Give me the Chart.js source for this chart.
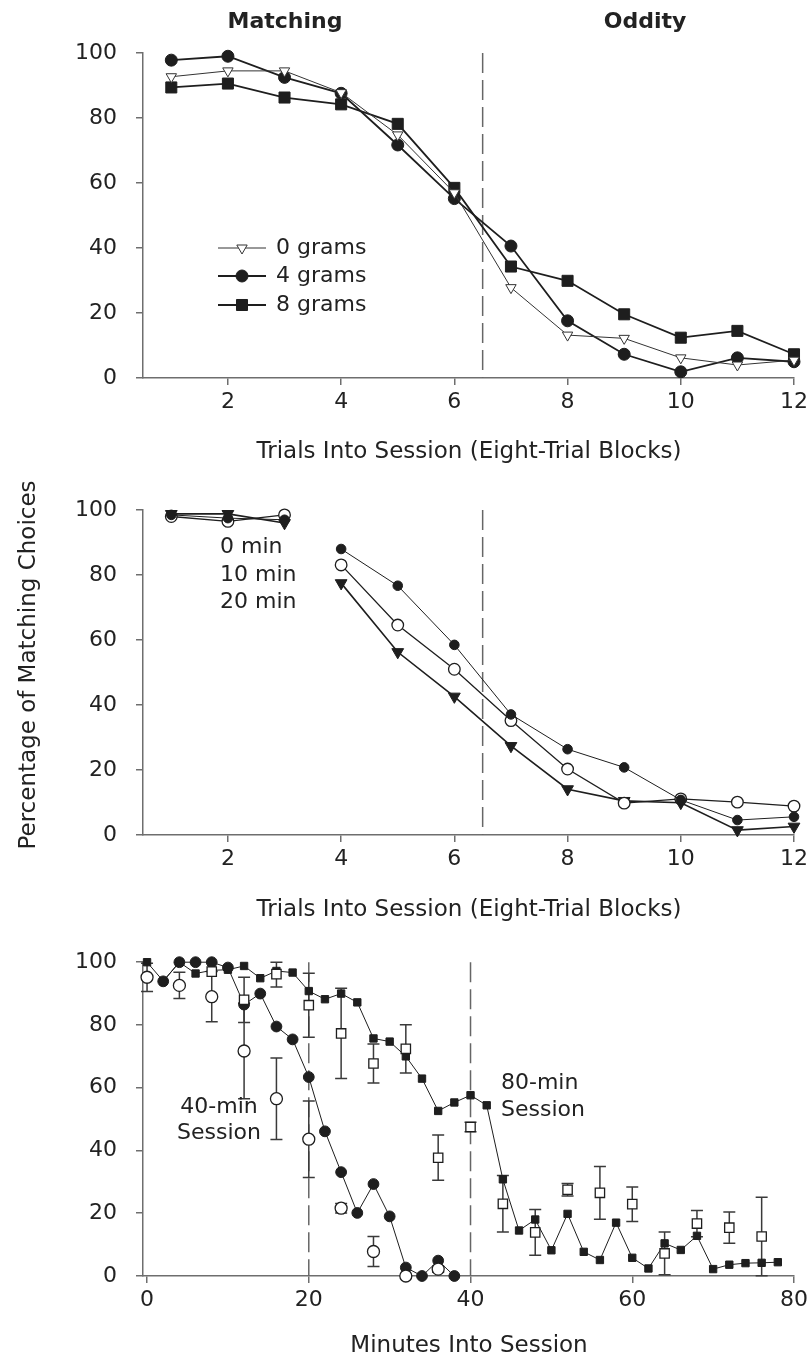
<!DOCTYPE html>
<html><head><meta charset="utf-8">
<script src="https://cdn.jsdelivr.net/npm/chart.js@4.4.1/dist/chart.umd.min.js"></script>
<style>
html,body{margin:0;padding:0;background:#fff;width:812px;height:1362px;overflow:hidden;}
canvas{position:absolute;left:0;}
</style></head><body>
<canvas id="c1" width="812" height="470" style="top:0px;width:812px;height:470px"></canvas>
<canvas id="c2" width="812" height="460" style="top:470px;width:812px;height:460px"></canvas>
<canvas id="c3" width="812" height="432" style="top:930px;width:812px;height:432px"></canvas>
<script>
// ---------- DATA ----------
const yTicks = [0, 20, 40, 60, 80, 100];
const blockTicks = [2, 4, 6, 8, 10, 12];
const minuteTicks = [0, 20, 40, 60, 80];

// Panel 1: weight conditions
const blocks = [1, 2, 3, 4, 5, 6, 7, 8, 9, 10, 11, 12];
const grams0 = [92.7, 94.5, 94.5, 87.8, 74.8, 57.0, 27.8, 13.2, 12.2, 6.2, 4.0, 5.5];
const grams4 = [97.8, 99.0, 92.5, 87.6, 71.7, 55.2, 40.6, 17.6, 7.3, 1.9, 6.2, 5.0];
const grams8 = [89.4, 90.6, 86.3, 84.2, 78.2, 58.5, 34.3, 29.9, 19.6, 12.4, 14.5, 7.3];
const weightLabels = ['0 grams', '4 grams', '8 grams'];
const phaseLabels = ['Matching', 'Oddity'];
const phaseBoundary = [6.5];

// Panel 2: delay conditions
const delay0 = [98.5, 97.5, 97.0, 88.0, 76.7, 58.5, 37.1, 26.4, 20.8, 10.8, 4.6, 5.6];
const delay10 = [98.0, 96.5, 98.5, 83.1, 64.6, 51.0, 35.2, 20.3, 9.8, 11.1, 10.1, 8.9];
const delay20 = [98.8, 98.8, 96.0, 77.5, 56.3, 42.6, 27.4, 14.1, 10.5, 9.9, 1.5, 2.6];
const delayLabels = ['0 min', '10 min', '20 min'];

// Panel 3: session length
const minutes40 = [0, 2, 4, 6, 8, 10, 12, 14, 16, 18, 20, 22, 24, 26, 28, 30, 32, 34, 36, 38];
const session40 = [null, 93.9, 100, 100, 100, 98.3, 86.5, 90.0, 79.5, 75.4, 63.4, 46.1, 33.1, 20.1, 29.3, 19.0, 2.7, 0, 4.9, 0];
const minutes80 = [0, 2, 4, 6, 8, 10, 12, 14, 16, 18, 20, 22, 24, 26, 28, 30, 32, 34, 36, 38,
                   40, 42, 44, 46, 48, 50, 52, 54, 56, 58, 60, 62, 64, 66, 68, 70, 72, 74, 76, 78];
const session80 = [100, 94, 100, 96.4, 97.4, 97.6, 98.8, 94.9, 97.2, 96.7, 90.8, 88.2, 90.0, 87.2, 75.7, 74.7, 70.0, 62.9, 52.6, 55.3,
                   57.6, 54.4, 30.8, 14.5, 18.0, 8.2, 19.8, 7.7, 5.1, 17.0, 5.8, 2.4, 10.4, 8.3, 12.8, 2.2, 3.6, 4.1, 4.2, 4.4];
const minutes40b = [0, 4, 8, 12, 16, 20, 24, 28, 32, 36];
const block40 = [95.2, 92.6, 89.0, 71.7, 56.5, 43.6, 21.6, 7.8, 0, 2.2];
const block40Err = [4.5, 4.2, 8.0, 15.2, 13.0, 12.2, 1.5, 4.8, 0, 1.0];
const minutes80b = [0, 4, 8, 12, 16, 20, 24, 28, 32, 36, 40, 44, 48, 52, 56, 60, 64, 68, 72, 76];
const block80 = [null, null, 97.0, 88.0, 96.2, 86.3, 77.3, 67.7, 72.4, 37.7, 47.5, 23.0, 13.9, 27.5, 26.5, 22.9, 7.2, 16.7, 15.4, 12.6];
const block80Err = [0, 0, 0, 7.2, 4.1, 10.2, 14.4, 6.2, 7.7, 7.2, 1.5, 9.0, 7.3, 2.0, 8.4, 5.5, 6.8, 4.2, 5.0, 12.5];
const sessionBoundaries = [20, 40];
const sessionLabels = [['40-min', 'Session'], ['80-min', 'Session']];

// ---------- STYLE ----------
const FONT = '"DejaVu Sans", Verdana, sans-serif';
const TXT = '#222';
const AX = '#6e6e6e';
const INK = '#1e1e1e';

const pts = (xs, ys) => xs.map((x, i) => ({x: x, y: ys[i]}));

function yScale() {
  return {
    type: 'linear', min: 0, max: 100,
    afterBuildTicks: s => { s.ticks = yTicks.map(v => ({value: v})); },
    afterFit: s => { s.width = 143; },
    grid: {display: true, drawOnChartArea: false, drawTicks: true, tickLength: 7, color: AX, lineWidth: 1.5},
    border: {display: true, color: AX, width: 1.5},
    ticks: {color: TXT, font: {family: FONT, size: 22}, padding: 19}
  };
}
function xScale(min, max, ticks, h) {
  return {
    type: 'linear', min: min, max: max,
    afterBuildTicks: s => { s.ticks = ticks.map(v => ({value: v})); },
    afterFit: s => { s.height = h; },
    grid: {display: true, drawOnChartArea: false, drawTicks: true, tickLength: 7, color: AX, lineWidth: 1.5},
    border: {display: true, color: AX, width: 1.5},
    ticks: {color: TXT, font: {family: FONT, size: 22}, padding: 4, maxRotation: 0, autoSkip: false}
  };
}
function baseOptions(padTop, xs) {
  return {
    responsive: false, animation: false, devicePixelRatio: 1,
    layout: {padding: {top: padTop, right: 17, left: 0, bottom: 0}},
    plugins: {legend: {display: false}, tooltip: {enabled: false}},
    scales: {x: xs, y: yScale()},
    elements: {line: {tension: 0}}
  };
}

function vlines(values) {
  return {
    id: 'vlines',
    beforeDatasetsDraw(chart) {
      const {ctx, scales: {x, y}} = chart;
      ctx.save();
      ctx.strokeStyle = '#666'; ctx.lineWidth = 1.5; ctx.setLineDash([20, 7]);
      values.forEach(v => {
        const px = x.getPixelForValue(v);
        ctx.beginPath(); ctx.moveTo(px, y.getPixelForValue(100)); ctx.lineTo(px, y.getPixelForValue(0)); ctx.stroke();
      });
      ctx.restore();
    }
  };
}
const errorBars = {
  id: 'errbars',
  beforeDatasetsDraw(chart) {
    const {ctx, scales: {x, y}} = chart;
    chart.data.datasets.forEach(ds => {
      if (!ds.errors) return;
      ctx.save(); ctx.strokeStyle = '#3a3a3a'; ctx.lineWidth = 1.5;
      ds.data.forEach((p, i) => {
        const e = ds.errors[i];
        if (p.y == null || !e) return;
        const px = x.getPixelForValue(p.x);
        const y1 = y.getPixelForValue(Math.min(100, p.y + e));
        const y2 = y.getPixelForValue(Math.max(0, p.y - e));
        ctx.beginPath();
        ctx.moveTo(px, y1); ctx.lineTo(px, y2);
        ctx.moveTo(px - 6, y1); ctx.lineTo(px + 6, y1);
        ctx.moveTo(px - 6, y2); ctx.lineTo(px + 6, y2);
        ctx.stroke();
      });
      ctx.restore();
    });
  }
};
function texts(items) {
  return {
    id: 'texts',
    afterDraw(chart) {
      const ctx = chart.ctx;
      items.forEach(t => {
        ctx.save();
        ctx.font = t.font || ('22px ' + FONT);
        ctx.fillStyle = TXT;
        ctx.textAlign = t.align || 'center';
        ctx.textBaseline = 'middle';
        ctx.translate(t.x, t.y);
        if (t.rot) ctx.rotate(t.rot);
        ctx.fillText(t.text, 0, 0);
        ctx.restore();
      });
    }
  };
}
function marker(ctx, style, x, y, r, fill, stroke, bw) {
  ctx.save();
  ctx.fillStyle = fill; ctx.strokeStyle = stroke; ctx.lineWidth = bw;
  ctx.beginPath();
  if (style === 'circle') ctx.arc(x, y, r, 0, Math.PI * 2);
  else if (style === 'rect') { const s = r * Math.SQRT1_2; ctx.rect(x - s, y - s, 2 * s, 2 * s); }
  else if (style === 'tridown') {
    ctx.moveTo(x, y + r);
    ctx.lineTo(x - r * Math.sin(Math.PI / 3), y - r / 2);
    ctx.lineTo(x + r * Math.sin(Math.PI / 3), y - r / 2);
    ctx.closePath();
  }
  ctx.fill(); if (bw) ctx.stroke();
  ctx.restore();
}

// ---------- PANEL 1 ----------
const p1Styles = [
  {style: 'tridown', r: 6, fill: '#fff', stroke: '#333', bw: 1, lw: 1},
  {style: 'circle', r: 6, fill: INK, stroke: INK, bw: 1, lw: 1.8},
  {style: 'rect', r: 7.8, fill: INK, stroke: INK, bw: 1, lw: 1.8}
];
const p1Series = [grams0, grams4, grams8];
const legend1 = {
  id: 'legend1',
  afterDraw(chart) {
    const ctx = chart.ctx;
    const rows = [248, 276, 305];
    weightLabels.forEach((lab, i) => {
      const st = p1Styles[i];
      ctx.save(); ctx.strokeStyle = i === 0 ? '#333' : INK; ctx.lineWidth = st.lw;
      ctx.beginPath(); ctx.moveTo(218, rows[i]); ctx.lineTo(266, rows[i]); ctx.stroke(); ctx.restore();
      marker(ctx, st.style, 242, rows[i], st.r, st.fill, st.stroke, st.bw);
      ctx.save(); ctx.font = '22px ' + FONT; ctx.fillStyle = TXT; ctx.textAlign = 'left'; ctx.textBaseline = 'middle';
      ctx.fillText(lab, 276, rows[i]); ctx.restore();
    });
  }
};
new Chart(document.getElementById('c1'), {
  type: 'line',
  data: {
    datasets: p1Series.map((s, i) => ({
      label: weightLabels[i],
      data: pts(blocks, s),
      borderColor: i === 0 ? '#333' : INK,
      borderWidth: p1Styles[i].lw,
      pointStyle: i === 0 ? 'triangle' : p1Styles[i].style,
      rotation: i === 0 ? 180 : 0,
      pointRadius: p1Styles[i].r,
      pointBackgroundColor: p1Styles[i].fill,
      pointBorderColor: p1Styles[i].stroke,
      pointBorderWidth: p1Styles[i].bw,
      clip: false,
      order: [1, 2, 3][i]
    }))
  },
  options: baseOptions(53, xScale(0.5, 12, blockTicks, 92)),
  plugins: [vlines(phaseBoundary), legend1, texts([
    {text: phaseLabels[0], x: 285, y: 22, font: 'bold 22px ' + FONT},
    {text: phaseLabels[1], x: 645, y: 22, font: 'bold 22px ' + FONT},
    {text: 'Trials Into Session (Eight-Trial Blocks)', x: 469, y: 452, font: '23px ' + FONT}
  ])]
});

// ---------- PANEL 2 ----------
const p2Styles = [
  {ps: 'circle', rot: 0, r: 4.8, fill: INK, stroke: INK, bw: 1, lw: 1},
  {ps: 'circle', rot: 0, r: 5.8, fill: '#fff', stroke: INK, bw: 1.3, lw: 1.3},
  {ps: 'triangle', rot: 180, r: 6.8, fill: INK, stroke: INK, bw: 1, lw: 1.6}
];
const p2Series = [delay0, delay10, delay20];
new Chart(document.getElementById('c2'), {
  type: 'line',
  data: {
    datasets: p2Series.map((s, i) => ({
      label: delayLabels[i],
      data: pts(blocks, s),
      borderColor: INK,
      borderWidth: p2Styles[i].lw,
      pointStyle: p2Styles[i].ps,
      rotation: p2Styles[i].rot,
      pointRadius: p2Styles[i].r,
      pointBackgroundColor: p2Styles[i].fill,
      pointBorderColor: p2Styles[i].stroke,
      pointBorderWidth: p2Styles[i].bw,
      segment: {borderColor: c => c.p0DataIndex === 2 ? 'rgba(0,0,0,0)' : undefined},
      clip: false,
      order: [1, 2, 3][i]
    }))
  },
  options: baseOptions(40, xScale(0.5, 12, blockTicks, 95)),
  plugins: [vlines(phaseBoundary), texts([
    {text: delayLabels[0], x: 220, y: 77, align: 'left'},
    {text: delayLabels[1], x: 220, y: 105, align: 'left'},
    {text: delayLabels[2], x: 220, y: 132, align: 'left'},
    {text: 'Trials Into Session (Eight-Trial Blocks)', x: 469, y: 440, font: '23px ' + FONT},
    {text: 'Percentage of Matching Choices', x: 29, y: 195, rot: -Math.PI / 2, font: '23px ' + FONT}
  ])]
});

// ---------- PANEL 3 ----------
new Chart(document.getElementById('c3'), {
  type: 'line',
  data: {
    datasets: [
      {label: '40-min blocks', data: pts(minutes40b, block40), errors: block40Err, showLine: false,
       pointStyle: 'circle', pointRadius: 6, pointBackgroundColor: '#fff', pointBorderColor: INK, pointBorderWidth: 1.3,
       clip: false, order: 1},
      {label: '80-min blocks', data: pts(minutes80b, block80), errors: block80Err, showLine: false,
       pointStyle: 'rect', pointRadius: 6.6, pointBackgroundColor: '#fff', pointBorderColor: INK, pointBorderWidth: 1.3,
       clip: false, order: 2},
      {label: '80-min session', data: pts(minutes80, session80), borderColor: INK, borderWidth: 1,
       pointStyle: 'rect', pointRadius: 5.2, pointBackgroundColor: INK, pointBorderColor: INK, pointBorderWidth: 1,
       clip: false, order: 3},
      {label: '40-min session', data: pts(minutes40, session40), borderColor: INK, borderWidth: 1,
       pointStyle: 'circle', pointRadius: 5.4, pointBackgroundColor: INK, pointBorderColor: INK, pointBorderWidth: 1,
       clip: false, order: 4}
    ]
  },
  options: baseOptions(21, xScale(-0.5, 80, minuteTicks, 86)),
  plugins: [vlines(sessionBoundaries), errorBars, texts([
    {text: sessionLabels[0][0], x: 219, y: 177},
    {text: sessionLabels[0][1], x: 219, y: 203},
    {text: sessionLabels[1][0], x: 501, y: 153, align: 'left'},
    {text: sessionLabels[1][1], x: 501, y: 180, align: 'left'},
    {text: 'Minutes Into Session', x: 469, y: 416, font: '23px ' + FONT}
  ])]
});
</script>
</body></html>
